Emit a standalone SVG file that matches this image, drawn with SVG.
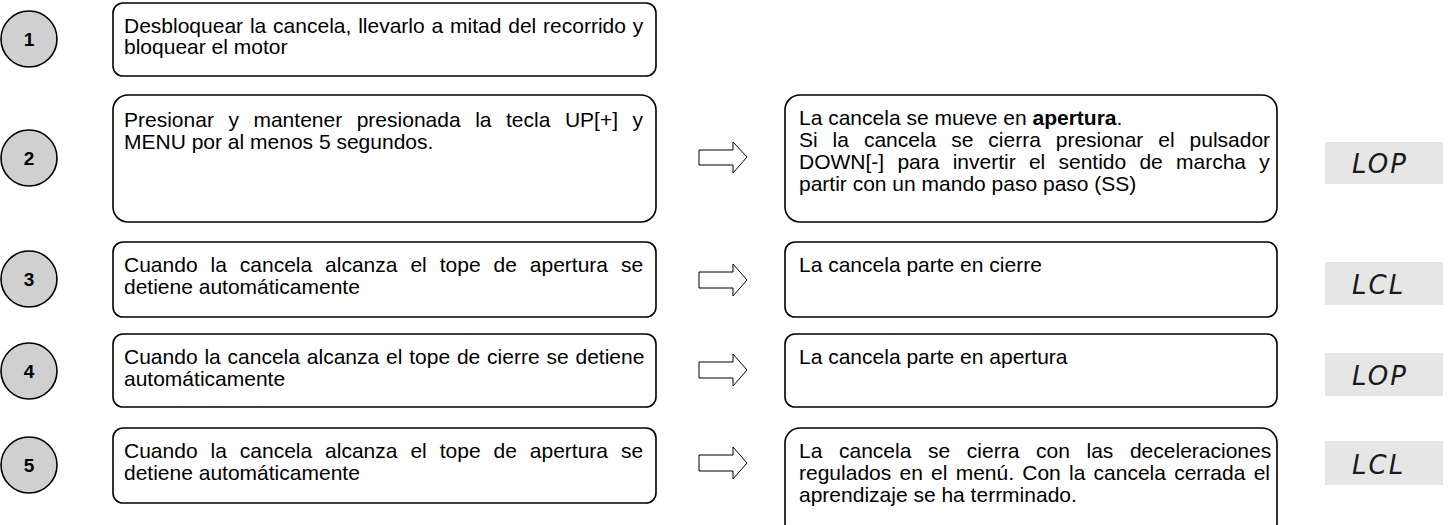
<svg xmlns="http://www.w3.org/2000/svg" width="1449" height="525" viewBox="0 0 1449 525">
<style>
.step{fill:#d0d0d0;stroke:#000;stroke-width:1.6}
.num{font-family:"Liberation Sans",Arial,sans-serif;font-size:19px;font-weight:bold;text-anchor:middle;fill:#000}
.box{fill:#fff;stroke:#000;stroke-width:1.6}
.t{font-family:"Liberation Sans",Arial,sans-serif;font-size:21px;fill:#000}
.arr{fill:#fff;stroke:#000;stroke-width:1}
.lcd{fill:#e6e6e6}
.lt{font-family:"DejaVu Sans",sans-serif;font-size:26px;font-style:italic;font-weight:200;fill:#1a1a1a;letter-spacing:2px}
</style>
<rect width="1449" height="525" fill="#fff"/>
<g id="step1">
<circle class="step" cx="29" cy="39" r="28"/><text class="num" x="29" y="46">1</text>
<rect class="box" x="113" y="3" width="543" height="73" rx="10"/>
<text class="t" x="124" y="33" word-spacing="1">Desbloquear la cancela, llevarlo a mitad del recorrido y</text>
<text class="t" x="124" y="54">bloquear el motor</text>
</g>
<g id="step2">
<circle class="step" cx="29" cy="158" r="28"/><text class="num" x="29" y="165">2</text>
<rect class="box" x="113" y="95" width="543" height="127" rx="15"/>
<text class="t" x="124" y="127" word-spacing="8.7">Presionar y mantener presionada la tecla UP[+] y</text>
<text class="t" x="124" y="149">MENU por al menos 5 segundos.</text>
</g>
<g id="result2">
<rect class="box" x="785" y="95" width="492" height="127" rx="15"/>
<text class="t" x="799" y="125">La cancela se mueve en <tspan font-weight="bold">apertura</tspan>.</text>
<text class="t" x="799" y="147" word-spacing="9.1">Si la cancela se cierra presionar el pulsador</text>
<text class="t" x="799" y="169" word-spacing="7.4">DOWN[-] para invertir el sentido de marcha y</text>
<text class="t" x="799" y="191">partir con un mando paso paso (SS)</text>
</g>
<g id="lcd2"><rect class="lcd" x="1325" y="142" width="118" height="42"/><text class="lt" x="1352" y="173">LOP</text></g>
<g id="step3">
<circle class="step" cx="29" cy="279" r="28"/><text class="num" x="29" y="286">3</text>
<rect class="box" x="113" y="242" width="543" height="75" rx="10"/>
<text class="t" x="124" y="272" word-spacing="7.1">Cuando la cancela alcanza el tope de apertura se</text>
<text class="t" x="124" y="294">detiene automáticamente</text>
</g>
<g id="result3">
<rect class="box" x="785" y="242" width="492" height="75" rx="10"/>
<text class="t" x="799" y="272">La cancela parte en cierre</text>
</g>
<g id="lcd3"><rect class="lcd" x="1325" y="262" width="118" height="43"/><text class="lt" x="1352" y="294">LCL</text></g>
<g id="step4">
<circle class="step" cx="29" cy="371" r="28"/><text class="num" x="29" y="378">4</text>
<rect class="box" x="113" y="334" width="543" height="73" rx="10"/>
<text class="t" x="124" y="364" word-spacing="1">Cuando la cancela alcanza el tope de cierre se detiene</text>
<text class="t" x="124" y="386">automáticamente</text>
</g>
<g id="result4">
<rect class="box" x="785" y="334" width="492" height="73" rx="10"/>
<text class="t" x="799" y="364">La cancela parte en apertura</text>
</g>
<g id="lcd4"><rect class="lcd" x="1325" y="353" width="118" height="43"/><text class="lt" x="1352" y="385">LOP</text></g>
<g id="step5">
<circle class="step" cx="29" cy="465" r="28"/><text class="num" x="29" y="472">5</text>
<rect class="box" x="113" y="428" width="543" height="75" rx="10"/>
<text class="t" x="124" y="458" word-spacing="7.1">Cuando la cancela alcanza el tope de apertura se</text>
<text class="t" x="124" y="480">detiene automáticamente</text>
</g>
<g id="result5">
<rect class="box" x="785" y="428" width="492" height="110" rx="15"/>
<text class="t" x="799" y="458" word-spacing="10.8">La cancela se cierra con las deceleraciones</text>
<text class="t" x="799" y="480" word-spacing="2.4">regulados en el menú. Con la cancela cerrada el</text>
<text class="t" x="799" y="502">aprendizaje se ha terrminado.</text>
</g>
<g id="lcd5"><rect class="lcd" x="1325" y="441" width="118" height="44"/><text class="lt" x="1352" y="474">LCL</text></g>
<g id="connectors">
<polygon class="arr" points="699,150 733,150 733,142 747,157 733,173 733,165 699,165"/>
<polygon class="arr" points="699,272 733,272 733,264 747,280 733,296 733,288 699,288"/>
<polygon class="arr" points="699,362 733,362 733,354 747,370 733,386 733,378 699,378"/>
<polygon class="arr" points="699,455 733,455 733,447 747,463 733,479 733,471 699,471"/>
</g>
</svg>
